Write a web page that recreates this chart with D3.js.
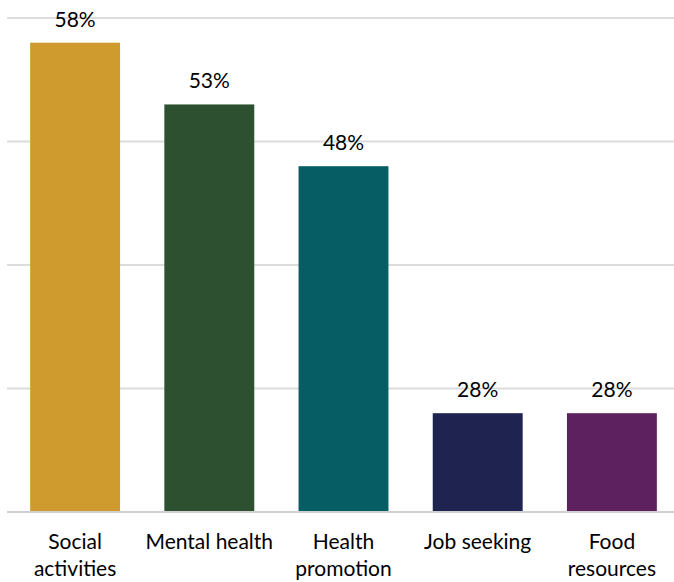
<!DOCTYPE html>
<html>
<head>
<meta charset="utf-8">
<script src="https://cdn.jsdelivr.net/npm/d3@7"></script>
<style>
  html, body { margin: 0; padding: 0; background: #fff; }
  svg { display: block; }
  text { font-family: Lato, "Open Sans", sans-serif; fill: #000; }
</style>
</head>
<body>
<svg id="chart" width="674" height="582"></svg>
<script>
const categories = [["Social", "activities"], ["Mental health"], ["Health", "promotion"], ["Job seeking"], ["Food", "resources"]];
const values = [58, 53, 48, 28, 28];
const colors = ["#CF9A2E", "#2C5030", "#065E64", "#1E2350", "#5E2160"];
const gridTicks = [20, 30, 40, 50, 60];

const svg = d3.select("#chart");

const x = d3.scaleBand()
  .domain(d3.range(values.length))
  .range([8, 679])
  .paddingInner(0.33)
  .paddingOuter(0.165);

const y = d3.scaleLinear().domain([20, 60]).range([512, 18]);

// horizontal gridlines
svg.append("g")
  .selectAll("line")
  .data(gridTicks)
  .join("line")
  .attr("x1", 7).attr("x2", 674)
  .attr("y1", d => y(d)).attr("y2", d => y(d))
  .attr("stroke", d => d === 20 ? "#d0d0d0" : "#dcdcdc")
  .attr("stroke-width", 2);

// bars
svg.append("g")
  .selectAll("rect")
  .data(values)
  .join("rect")
  .attr("x", (d, i) => x(i))
  .attr("width", x.bandwidth())
  .attr("y", d => y(d))
  .attr("height", d => y(20) - y(d))
  .attr("fill", (d, i) => colors[i]);

// baseline redrawn over the bars
svg.append("line")
  .attr("x1", 7).attr("x2", 674)
  .attr("y1", y(20)).attr("y2", y(20))
  .attr("stroke", "#d0d0d0").attr("stroke-width", 2);

// value labels
svg.append("g")
  .selectAll("text")
  .data(values)
  .join("text")
  .attr("x", (d, i) => x(i) + x.bandwidth() / 2)
  .attr("y", d => y(d) - 16)
  .attr("text-anchor", "middle")
  .attr("font-size", 21)
  .text(d => d + "%");

// category labels
const cat = svg.append("g")
  .selectAll("text")
  .data(categories)
  .join("text")
  .attr("x", (d, i) => x(i) + x.bandwidth() / 2)
  .attr("y", 549)
  .attr("text-anchor", "middle")
  .attr("font-size", 21);

cat.selectAll("tspan")
  .data(d => d)
  .join("tspan")
  .attr("x", function() { return this.parentNode.getAttribute("x"); })
  .attr("dy", (d, i) => i === 0 ? 0 : 27)
  .text(d => d);
</script>
</body>
</html>
